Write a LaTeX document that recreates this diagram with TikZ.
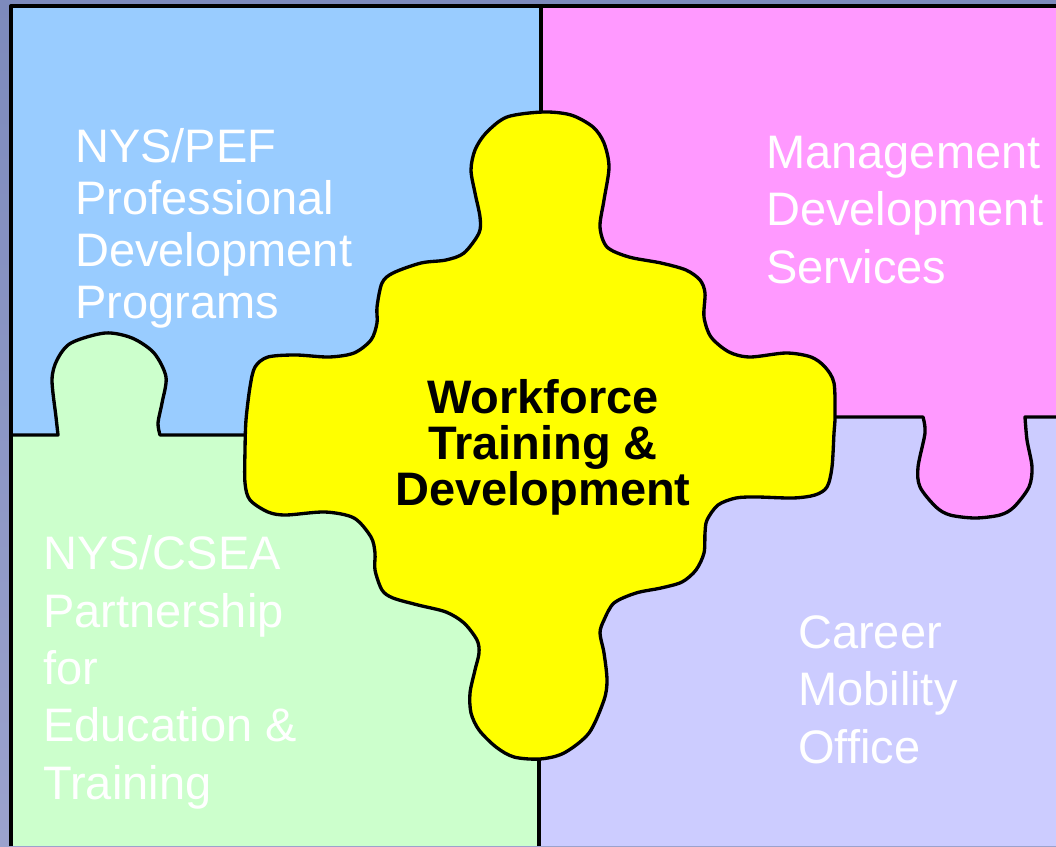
\documentclass[tikz,border=0pt]{standalone}
\usepackage{fontspec}
\setmainfont{Liberation Sans}
\definecolor{pefblue}{HTML}{99CCFF}
\definecolor{mdspink}{HTML}{FF99FF}
\definecolor{cseagreen}{HTML}{CCFFCC}
\definecolor{cmolav}{HTML}{CCCCFF}
\definecolor{wtdyellow}{HTML}{FFFF00}
\definecolor{slidetop}{RGB}{125,138,188}
\definecolor{slidemid}{RGB}{85,112,172}
\definecolor{slidebot}{RGB}{155,162,205}
\tikzset{
  edge/.style={draw=black, line width=2.5pt, line join=round},
  blurb/.style={anchor=base west, inner sep=0pt, align=left, text=white,
    font=\fontsize{35.25}{#1}\selectfont},
  hub/.style={anchor=base, inner sep=0pt, align=center, text=black,
    font=\fontsize{35.25}{34.5}\selectfont\bfseries},
}
\begin{document}
\begin{tikzpicture}[x=0.75pt, y=-0.75pt]
  \useasboundingbox (0,0) rectangle (1056,846);
  \shade[top color=slidetop, middle color=slidemid, bottom color=slidebot] (0,0) rectangle (1056,846);

  \fill[pefblue] (11,6) rectangle (541,435);
  \fill[mdspink] (541,6) rectangle (1056,417);
  \fill[cseagreen] (11,435) rectangle (539,846);
  \fill[cmolav] (539,417) rectangle (1056,846);

  \filldraw[edge, fill=cseagreen] (11,435) -- plot[smooth] coordinates {(58,435) (56,417) (52,380) (57,360) (71,343) (105,333) (132,338) (154,353) (166,377) (162,403) (158,423) (160,435)} -- (245,435);
  \filldraw[edge, fill=mdspink] (836,417) -- plot[smooth] coordinates {(923,417) (925,433) (918,467) (920,487) (936,507) (950,515) (975,518) (1000,515) (1014,507) (1029,487) (1032,467) (1027,440) (1025,417)} -- (1056,417);

  \draw[edge] (11,846) -- (11,6) -- (1056,6);
  \draw[edge] (541,6) -- (541,112);
  \draw[edge] (539,758) -- (539,846);

  \filldraw[edge, fill=wtdyellow] plot[smooth cycle] coordinates {
    (543,112) (507,117) (486,133) (475,150) (471,170) (475,193) (480,217) (479,233)
    (464,253) (446,260) (421,263) (393,273) (382,283) (377,307) (377,323) (371,340)
    (354,353) (329,357) (296,355) (268,357) (255,367) (250,387) (246,420) (245,450)
    (245,483) (250,500) (268,512) (286,515) (325,512) (354,518) (371,537) (375,553)
    (375,570) (382,590) (393,598) (418,605) (446,612) (464,623) (477,640) (479,653)
    (475,670) (470,693) (471,713) (479,730) (496,747) (514,757) (540,759)
    (564,753) (589,733) (604,700) (607,680) (604,653) (600,633) (604,620) (614,603)
    (636,593) (661,588) (682,582) (696,570) (704,553) (705,533) (707,520) (718,505)
    (736,498) (757,497) (793,498) (815,495) (827,487) (832,467) (834,433) (835,417)
    (834,383) (825,367) (811,357) (786,353) (750,357) (729,352) (711,337) (704,317)
    (705,293) (700,280) (686,270) (661,263) (629,257) (607,247) (600,227) (604,200)
    (609,167) (604,143) (593,127) (571,115)};

  \node[blurb=38.8] (pef) at (75,318) {NYS/PEF\\Professional\\Development\\Programs};
  \node[blurb=43] (mds) at (766,283) {Management\\Development\\Services};
  \node[blurb=43] (csea) at (43,799) {NYS/CSEA\\Partnership\\for\\Education \&\\Training};
  \node[blurb=43] (cmo) at (798,763) {Career\\Mobility\\Office};
  \node[hub] (wtd) at (543,505) {Workforce\\Training \&\\Development};
\end{tikzpicture}
\end{document}
